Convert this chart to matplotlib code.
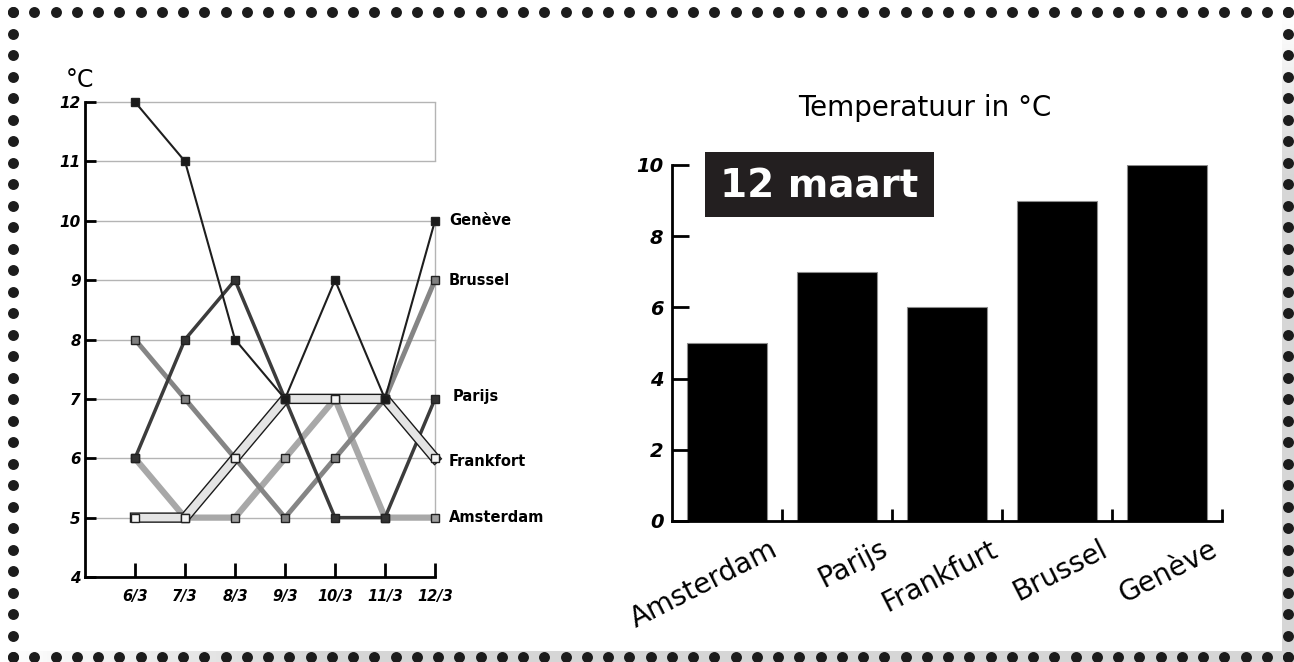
import matplotlib.pyplot as plt
import matplotlib.patheffects as pe
import numpy as np
from matplotlib.patches import Rectangle
from matplotlib.transforms import ScaledTranslation

plt.rcParams['font.family'] = ['DejaVu Sans']

# data: temperaturen per dag (links)
dagen = ['6/3', '7/3', '8/3', '9/3', '10/3', '11/3', '12/3']
geneve = [12, 11, 8, 7, 9, 7, 10]
brussel = [8, 7, 6, 5, 6, 7, 9]
parijs = [6, 8, 9, 7, 5, 5, 7]
frankfort = [5, 5, 6, 7, 7, 7, 6]
amsterdam = [6, 5, 5, 6, 7, 5, 5]

# data: 12 maart (rechts)
steden = ['Amsterdam', 'Parijs', 'Frankfurt', 'Brussel', 'Genève']
temp_12maart = [5, 7, 6, 9, 10]

W, H = 1294, 662
fig = plt.figure(figsize=(W / 100, H / 100), dpi=100)

# ---- dotted border with grey shadow strip
bg = fig.add_axes([0, 0, 1, 1], zorder=0)
t = np.clip(np.linspace(0, 1, 300) * 4, 0, 1)
strip_h = np.ones((1, 300, 3)) * (1 - 0.16 * t)[None, :, None]
bg.imshow(strip_h, extent=(0, W, H, 651), aspect='auto', zorder=0)
strip_v = np.ones((300, 1, 3)) * (1 - 0.16 * t)[:, None, None]
bg.imshow(strip_v, extent=(1282, W, H, 15), aspect='auto', zorder=0)
bg.set_xlim(0, W)
bg.set_ylim(H, 0)
bg.axis('off')
xs = np.linspace(13, 1288, 61)
ys = np.linspace(12, 657, 31)
dot = dict(s=62, color='#1c1c1c', linewidths=0, zorder=2)
bg.scatter(xs, np.full_like(xs, 12), **dot)
bg.scatter(xs, np.full_like(xs, 657), **dot)
bg.scatter(np.full_like(ys, 13), ys, **dot)
bg.scatter(np.full_like(ys, 1288), ys, **dot)

# ---- left: line chart
ax = fig.add_axes([85 / W, 85 / H, 350 / W, 475 / H], zorder=2)
ax.patch.set_alpha(0)
x = np.arange(len(dagen))
ax.set_xlim(-1, 6)
ax.set_ylim(4, 12)
for v in range(5, 13):
    ax.axhline(v, color='#b4b4b4', lw=1, zorder=1, clip_on=False)
ax.vlines(6, 11, 12, color='#b4b4b4', lw=1, zorder=1, clip_on=False)
ax.vlines(6, 5, 10, color='#b4b4b4', lw=1, zorder=1, clip_on=False)

ax.plot(x, amsterdam, color='#a8a8a8', lw=4.5, zorder=2, clip_on=False)
ax.plot(x, brussel, color='#858585', lw=3.5, zorder=3, clip_on=False)
ax.plot(x, parijs, color='#3c3c3c', lw=2.5, zorder=4, clip_on=False)
ax.plot(x, frankfort, color='#e4e4e4', lw=5.5, zorder=5, clip_on=False,
        path_effects=[pe.Stroke(linewidth=7.5, foreground='#1a1a1a'), pe.Normal()])
ax.plot(x, geneve, color='#1e1e1e', lw=1.5, zorder=6, clip_on=False)

mk = dict(ls='none', marker='s', ms=5.5, mec='#222222', mew=1, zorder=7, clip_on=False)
ax.plot(x, amsterdam, mfc='#a0a0a0', **mk)
ax.plot(x, brussel, mfc='#808080', **mk)
ax.plot(x, parijs, mfc='#333333', **mk)
ax.plot(x, frankfort, mfc='#f4f4f4', **mk)
ax.plot(x, geneve, mfc='#1a1a1a', **mk)

for naam, reeks, dx, dy in [('Genève', geneve, 10, 0), ('Brussel', brussel, 10, 0),
                             ('Parijs', parijs, 13, 2), ('Frankfort', frankfort, 10, -2),
                             ('Amsterdam', amsterdam, 10, 0)]:
    ax.annotate(naam, (6, reeks[-1]), xytext=(dx, dy), textcoords='offset points',
                va='center', ha='left', fontsize=10.5, fontweight='bold', annotation_clip=False)

for s in ['top', 'right']:
    ax.spines[s].set_visible(False)
for s in ['left', 'bottom']:
    ax.spines[s].set_linewidth(2)
ax.set_xticks(x)
ax.set_xticklabels(dagen, fontsize=10.5, fontweight='bold', fontstyle='italic')
ax.set_yticks(range(4, 13))
ax.set_yticklabels([str(v) for v in range(4, 13)], fontsize=11, fontweight='bold', fontstyle='italic')
ax.tick_params(axis='x', direction='in', length=10, width=2, pad=9)
ax.tick_params(axis='y', direction='in', length=8, width=2, pad=3)
fig.text(66 / W, 1 - 80 / H, '°C', fontsize=17, va='center', ha='left')

# ---- right: bar chart
ax2 = fig.add_axes([672 / W, 141 / H, 550 / W, 356 / H], zorder=2)
ax2.patch.set_alpha(0)
pos = np.arange(len(steden))
ax2.bar(pos, temp_12maart, width=0.727, color='black', edgecolor='#8c8c8c', linewidth=0.8)
ax2.set_xlim(-0.5, len(steden) - 0.5)
ax2.set_ylim(0, 10)
for s in ['top', 'right']:
    ax2.spines[s].set_visible(False)
for s in ['left', 'bottom']:
    ax2.spines[s].set_linewidth(2)
ax2.set_yticks(range(0, 11, 2))
ax2.set_yticklabels([str(v) for v in range(0, 11, 2)], fontsize=14, fontweight='bold', fontstyle='italic')
ax2.tick_params(axis='y', direction='in', length=12, width=2, pad=6)
ax2.set_xticks(np.arange(0.5, len(steden), 1.0), minor=True)
ax2.set_xticks(pos)
ax2.set_xticklabels(steden, fontsize=20, rotation=27, ha='right', rotation_mode='anchor')
ax2.tick_params(axis='x', which='major', length=0, pad=10)
ax2.tick_params(axis='x', which='minor', direction='in', length=9, width=2)
shift = ScaledTranslation(0.42, 0, fig.dpi_scale_trans)
for lbl in ax2.get_xticklabels():
    lbl.set_transform(lbl.get_transform() + shift)

fig.text(925 / W, 1 - 108 / H, 'Temperatuur in °C', fontsize=20, ha='center', va='center')
fig.patches.append(Rectangle((705 / W, 1 - 217 / H), 229 / W, 65 / H,
                             transform=fig.transFigure, facecolor='#231f20', edgecolor='none', zorder=3))
fig.text(819 / W, 1 - 186 / H, '12 maart', fontsize=28, fontweight='bold', color='white',
         ha='center', va='center', zorder=4)

fig.savefig('out.png', dpi=100)
